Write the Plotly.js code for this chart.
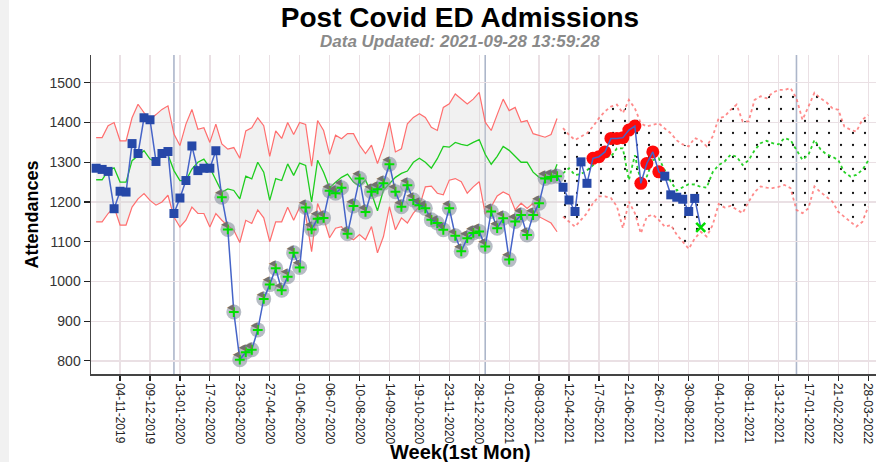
<!DOCTYPE html>
<html>
<head>
<meta charset="utf-8">
<script src="https://cdn.plot.ly/plotly-3.0.1.min.js"></script>
<style>
  html, body { margin: 0; padding: 0; background: #ffffff; }
  #chart { width: 876px; height: 462px; position: relative; }
  #strip { position: absolute; left: 0; top: 0; width: 9px; height: 462px; background: #f1f1f1; z-index: 5; }
</style>
</head>
<body>
<div id="chart"></div>
<div id="strip"></div>
<script>
// ---------------- DATA ----------------
const firstWeek = '2019-10-07';          // first Monday of the series
const tickStart = '2019-11-04';          // first labelled week
const yearStarts = ['2020-01-06', '2021-01-04', '2022-01-03'];

// weekly attendances (actual)
const actual = [
  1285,1282,1277,1183,1227,1225,1347,1322,1412,1407,
  1302,1322,1327,1171,1210,1254,1341,1279,1285,1285,
  1329,1212,1131,923,803,822,828,878,956,992,
  1033,978,1012,1072,1035,1186,1131,1158,1160,1228,
  1222,1236,1120,1190,1259,1175,1226,1232,1247,1295,
  1226,1188,1242,1205,1192,1184,1155,1147,1130,1184,
  1115,1076,1109,1122,1126,1088,1176,1134,1159,1055,
  1151,1167,1117,1167,1197,1259,1263,1265,1237,1205,
  1176,1301,1247,1310,1314,1326,1360,1360,1362,1381,
  1391,1247,1297,1326,1276,1265,1218,1212,1207,1176,
  1209,1136
];
// point class: n = normal, c = covid period (flagged), h = above expected, l = latest
const pointStatus = ('n'.repeat(21) + 'c'.repeat(57) + 'n'.repeat(5) +
                     'h'.repeat(12) + 'n'.repeat(6) + 'l').split('');

// historic expected band (weeks 0..77)
const histUpper = [
  1362,1362,1392,1400,1354,1354,1412,1446,1425,1408,
  1420,1433,1442,1371,1342,1396,1433,1383,1387,1350,
  1396,1346,1333,1337,1310,1379,1387,1412,1392,1315,
  1379,1360,1400,1370,1400,1395,1290,1405,1380,1320,
  1368,1359,1372,1372,1343,1322,1343,1297,1338,1401,
  1326,1334,1397,1413,1422,1413,1388,1380,1438,1447,
  1472,1459,1447,1459,1476,1401,1380,1420,1459,1430,
  1438,1401,1405,1372,1368,1363,1370,1410
];
const histMean = [
  1256,1256,1279,1286,1250,1250,1304,1317,1329,1308,
  1300,1317,1319,1279,1254,1254,1283,1300,1308,1286,
  1254,1225,1233,1229,1208,1265,1258,1300,1275,1204,
  1259,1254,1296,1267,1298,1292,1200,1305,1275,1235,
  1250,1262,1270,1250,1240,1255,1222,1178,1230,1245,
  1262,1272,1278,1300,1310,1300,1285,1309,1340,1338,
  1350,1345,1342,1350,1357,1320,1295,1315,1340,1330,
  1315,1300,1300,1275,1262,1258,1255,1295
];
const histLower = [
  1150,1150,1171,1187,1142,1142,1187,1208,1221,1204,
  1192,1200,1217,1162,1137,1154,1187,1171,1171,1137,
  1171,1154,1140,1129,1098,1154,1146,1180,1160,1100,
  1150,1150,1187,1154,1187,1167,1075,1196,1158,1110,
  1134,1138,1113,1105,1118,1105,1138,1072,1113,1188,
  1130,1160,1147,1172,1188,1238,1240,1222,1218,1255,
  1259,1251,1222,1238,1251,1170,1188,1215,1225,1218,
  1180,1197,1184,1197,1163,1155,1147,1125
];

// forecast band (weeks 78..129)
const foreUpper = [
  1386,1369,1356,1365,1373,1390,1411,1428,1440,1445,
  1424,1457,1436,1398,1390,1394,1398,1385,1373,1355,
  1345,1340,1361,1355,1340,1365,1411,1415,1432,1445,
  1403,1403,1457,1466,1461,1475,1482,1482,1487,1461,
  1407,1440,1475,1461,1451,1436,1432,1390,1382,1377,
  1407,1419
];
const foreMean = [
  1272,1285,1268,1270,1280,1293,1305,1314,1314,1335,
  1335,1255,1318,1250,1264,1305,1310,1280,1251,
  1229,1238,1245,1244,1238,1236,1275,1293,1302,1319,
  1314,1293,1305,1330,1348,1354,1348,1345,1361,1356,
  1330,1306,1319,1356,1333,1320,1314,1305,1275,1264,
  1268,1281,1304
];
const foreLower = [
  1163,1151,1138,1155,1172,1197,1214,1214,1210,1189,
  1134,1201,1172,1121,1163,1168,1155,1138,1142,
  1118,1100,1082,1108,1125,1113,1142,1195,1186,1190,
  1180,1172,1200,1225,1239,1236,1235,1238,1243,1235,
  1180,1172,1184,1239,1225,1214,1201,1175,1163,1151,
  1138,1150,1188
];

// ---------------- BUILD ----------------
const DAY = 86400000;
const t0 = Date.parse(firstWeek + 'T00:00:00Z');
const weekDate = i => new Date(t0 + i * 7 * DAY).toISOString().slice(0, 10);

const actualWeeks = actual.map((_, i) => weekDate(i));
const histWeeks = histMean.map((_, i) => weekDate(i));
const foreWeeks = foreMean.map((_, i) => weekDate(histMean.length + i));

function subset(cls) {
  const x = [], y = [];
  pointStatus.forEach((s, i) => { if (s === cls) { x.push(actualWeeks[i]); y.push(actual[i]); } });
  return { x, y };
}
const normalPts = subset('n'), covidPts = subset('c'), highPts = subset('h'), latestPts = subset('l');

const RED = 'rgb(255,110,110)';
const GREEN = 'rgb(30,205,30)';
const FONT = 'Liberation Sans, Arial, sans-serif';

const traces = [
  { x: histWeeks, y: histLower, mode: 'lines', line: { color: RED, width: 1.2 }, hoverinfo: 'skip', showlegend: false },
  { x: histWeeks, y: histUpper, mode: 'lines', line: { color: RED, width: 1.2 }, fill: 'tonexty',
    fillcolor: 'rgba(215,215,215,0.35)', hoverinfo: 'skip', showlegend: false },
  { x: histWeeks, y: histMean, mode: 'lines', line: { color: GREEN, width: 1.3 }, hoverinfo: 'skip', showlegend: false },

  { x: foreWeeks, y: foreLower, mode: 'lines', line: { color: 'rgba(255,110,110,0.8)', width: 1.8, dash: 'dot' },
    hoverinfo: 'skip', showlegend: false },
  { x: foreWeeks, y: foreUpper, mode: 'lines', line: { color: 'rgba(255,110,110,0.8)', width: 1.8, dash: 'dot' },
    fill: 'tonexty', fillcolor: 'rgba(0,0,0,0)',
    fillpattern: { shape: '.', fgcolor: '#111111', bgcolor: 'rgba(0,0,0,0)', size: 12, solidity: 0.028 },
    hoverinfo: 'skip', showlegend: false },
  { x: foreWeeks, y: foreMean, mode: 'lines', line: { color: 'rgb(40,210,40)', width: 1.8, dash: 'dot' },
    hoverinfo: 'skip', showlegend: false },

  // halos behind flagged points
  { x: covidPts.x, y: covidPts.y, mode: 'markers',
    marker: { symbol: 'circle', size: 15, color: 'rgba(135,145,158,0.6)' }, hoverinfo: 'skip', showlegend: false },
  { x: highPts.x, y: highPts.y, mode: 'markers',
    marker: { symbol: 'circle', size: 13, color: 'rgb(255,10,10)' }, hoverinfo: 'skip', showlegend: false },

  // actual line
  { x: actualWeeks, y: actual, mode: 'lines', line: { color: 'rgb(70,100,200)', width: 1.5 }, showlegend: false },

  { x: normalPts.x, y: normalPts.y, mode: 'markers',
    marker: { symbol: 'square', size: 9, color: 'rgb(38,72,168)' }, showlegend: false },
  { x: covidPts.x, y: covidPts.y, mode: 'markers',
    marker: { symbol: 'cross-thin', size: 7, line: { color: 'rgb(0,225,0)', width: 2 } }, showlegend: false },
  { x: covidPts.x, y: covidPts.y, mode: 'text', text: covidPts.x.map(() => '◀'), textposition: 'top left',
    textfont: { size: 9, color: '#707070', family: 'DejaVu Sans' }, hoverinfo: 'skip', showlegend: false },
  { x: latestPts.x, y: latestPts.y, mode: 'markers',
    marker: { symbol: 'x-thin', size: 9, line: { color: 'rgb(0,220,0)', width: 2.5 } }, showlegend: false }
];

const plotL = 91, plotR = 876, plotT = 55, plotB = 374, W = 876, H = 462;
const px2x = px => (px - plotL) / (plotR - plotL);
const px2y = py => (plotB - py) / (plotB - plotT);
const layout = {
  width: W, height: H,
  margin: { l: plotL, r: W - plotR, t: plotT, b: H - plotB, pad: 0 },
  paper_bgcolor: '#ffffff', plot_bgcolor: '#ffffff',
  font: { family: FONT, color: '#222' },
  title: { text: '<b>Post Covid ED Admissions</b>', font: { size: 28, family: FONT, color: '#000' },
           x: 460 / W, xanchor: 'center', xref: 'container', y: 1 - 17 / H, yanchor: 'middle', yref: 'container' },
  xaxis: {
    type: 'date', range: ['2019-10-01', '2022-04-06'],
    tick0: tickStart, dtick: 35 * DAY, tickformat: '%d-%m-%Y', tickangle: 90,
    ticks: 'outside', ticklen: 5, tickcolor: '#222', tickwidth: 1.2,
    tickfont: { size: 12, color: '#222', family: FONT },
    ticklabeloverflow: 'allow',
    showline: true, linecolor: '#444', linewidth: 1.5,
    showgrid: true, gridcolor: 'rgb(234,224,228)', gridwidth: 1.3, zeroline: false,
    automargin: false
  },
  yaxis: {
    range: [767, 1570], tick0: 0, dtick: 100,
    ticks: 'outside', ticklen: 6, tickcolor: '#222', tickwidth: 1.2,
    tickfont: { size: 14, color: '#333', family: FONT },
    showline: true, linecolor: '#444', linewidth: 1.5,
    showgrid: true, gridcolor: 'rgb(234,224,228)', gridwidth: 1.3, zeroline: false,
    title: { text: '<b>Attendances</b>', font: { size: 18, family: FONT, color: '#000' }, standoff: 6 },
    automargin: false
  },
  shapes: yearStarts.map(d => ({ type: 'line', xref: 'x', yref: 'paper', x0: d, x1: d, y0: 0, y1: 1,
    line: { color: 'rgb(172,182,202)', width: 1.6 }, layer: 'below' })),
  annotations: [
    { text: '<b><i>Data Updated: 2021-09-28 13:59:28</i></b>', showarrow: false,
      xref: 'paper', yref: 'paper', x: px2x(460), y: px2y(42),
      xanchor: 'center', yanchor: 'middle', font: { size: 17, color: '#8a8a8a', family: FONT } },
    { text: '<b>Week(1st Mon)</b>', showarrow: false,
      xref: 'paper', yref: 'paper', x: px2x(460), y: px2y(452),
      xanchor: 'center', yanchor: 'middle', font: { size: 20, color: '#000', family: FONT } }
  ],
  showlegend: false
};

Plotly.newPlot('chart', traces, layout, { displayModeBar: false, staticPlot: true });
</script>
</body>
</html>
